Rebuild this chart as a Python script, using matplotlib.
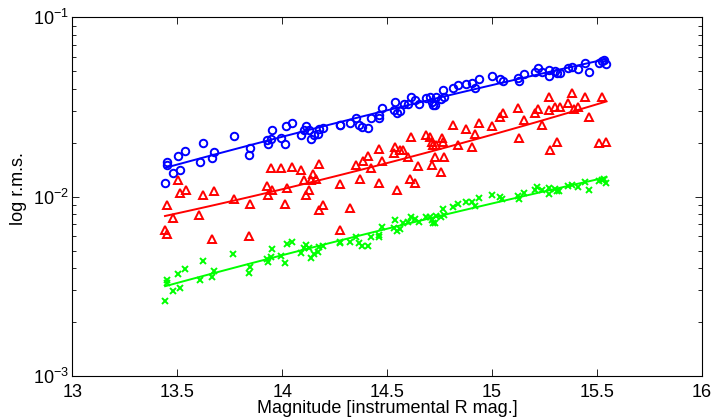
import matplotlib
matplotlib.use("Agg")
import matplotlib.pyplot as plt
import numpy as np
from matplotlib.ticker import LogLocator, NullFormatter, MultipleLocator

plt.rcParams["font.family"] = ["Liberation Sans", "DejaVu Sans"]
plt.rcParams["mathtext.fontset"] = "custom"
plt.rcParams["mathtext.rm"] = "Liberation Sans"
plt.rcParams["font.size"] = 13

# instrumental R magnitude, log10 of r.m.s.
blue_mag = [13.450, 13.453, 13.442, 13.480, 13.515, 13.504, 13.539, 13.607, 13.621, 13.667,
            13.674, 13.769, 13.842, 13.845, 13.928, 13.931, 13.947, 13.951, 13.994, 14.013,
            14.020, 14.048, 14.090, 14.105, 14.112, 14.128, 14.137, 14.153, 14.172, 14.175,
            14.194, 14.274, 14.277, 14.323, 14.353, 14.366, 14.381, 14.410, 14.421, 14.460,
            14.462, 14.477, 14.532, 14.540, 14.548, 14.561, 14.580, 14.600, 14.613, 14.632,
            14.651, 14.683, 14.704, 14.712, 14.717, 14.726, 14.732, 14.758, 14.767, 14.770,
            14.812, 14.839, 14.875, 14.905, 14.917, 14.937, 14.998, 15.037, 15.050, 15.124,
            15.128, 15.153, 15.205, 15.218, 15.237, 15.269, 15.272, 15.299, 15.307, 15.323,
            15.364, 15.383, 15.410, 15.445, 15.462, 15.510, 15.523, 15.534, 15.545]
blue_logrms = [-1.808, -1.823, -1.922, -1.870, -1.851, -1.771, -1.743, -1.808, -1.699, -1.784,
               -1.751, -1.660, -1.766, -1.728, -1.685, -1.704, -1.677, -1.630, -1.671, -1.708,
               -1.607, -1.589, -1.656, -1.628, -1.607, -1.628, -1.680, -1.658, -1.652, -1.621,
               -1.617, -1.602, -1.598, -1.591, -1.563, -1.600, -1.613, -1.615, -1.561, -1.563,
               -1.546, -1.507, -1.518, -1.472, -1.532, -1.522, -1.483, -1.483, -1.446, -1.462,
               -1.483, -1.451, -1.446, -1.470, -1.490, -1.489, -1.442, -1.453, -1.407, -1.446,
               -1.395, -1.377, -1.371, -1.368, -1.395, -1.344, -1.328, -1.344, -1.353, -1.336,
               -1.356, -1.316, -1.305, -1.284, -1.305, -1.293, -1.327, -1.299, -1.308, -1.308,
               -1.282, -1.275, -1.286, -1.254, -1.303, -1.254, -1.243, -1.238, -1.262]

red_mag = [13.453, 13.480, 13.504, 13.515, 13.540, 13.605, 13.621, 13.674, 13.769, 13.845,
           13.928, 13.931, 13.947, 13.953, 13.994, 14.013, 14.021, 14.048, 14.090, 14.104,
           14.112, 14.128, 14.137, 14.148, 14.162, 14.174, 14.177, 14.194, 14.274, 14.321,
           14.350, 14.369, 14.383, 14.410, 14.421, 14.460, 14.461, 14.477, 14.539, 14.532,
           14.547, 13.442, 13.451, 13.666, 13.842, 14.274, 14.561, 14.574, 14.599, 14.613,
           14.609, 14.632, 14.648, 14.683, 14.704, 14.715, 14.720, 14.731, 14.760, 14.764,
           14.728, 14.715, 14.769, 14.758, 14.812, 14.839, 14.875, 14.905, 14.917, 14.937,
           14.998, 15.037, 15.050, 15.124, 15.128, 15.153, 15.205, 15.218, 15.237, 15.269,
           15.272, 15.275, 15.299, 15.307, 15.323, 15.364, 15.383, 15.390, 15.410, 15.445,
           15.462, 15.510, 15.526, 15.545]
red_logrms = [-2.048, -2.117, -1.909, -1.981, -1.964, -2.104, -1.992, -1.970, -2.011, -2.039,
              -1.939, -1.992, -1.842, -1.964, -1.838, -2.039, -1.951, -1.834, -1.849, -1.909,
              -1.992, -1.964, -1.905, -1.872, -1.903, -2.074, -1.819, -2.045, -1.929, -2.065,
              -1.822, -1.903, -1.799, -1.775, -1.842, -1.736, -1.925, -1.801, -1.724, -1.758,
              -1.961, -2.186, -2.208, -2.238, -2.219, -2.186, -1.740, -1.740, -1.777, -1.669,
              -1.903, -1.925, -1.829, -1.656, -1.669, -1.697, -1.712, -1.712, -1.674, -1.697,
              -1.780, -1.823, -1.780, -1.861, -1.600, -1.712, -1.624, -1.721, -1.650, -1.587,
              -1.606, -1.554, -1.532, -1.504, -1.671, -1.572, -1.532, -1.513, -1.600, -1.446,
              -1.516, -1.740, -1.498, -1.693, -1.501, -1.476, -1.420, -1.511, -1.498, -1.442,
              -1.554, -1.699, -1.442, -1.693]

green_mag = [13.450, 13.453, 13.443, 13.480, 13.515, 13.504, 13.539, 13.607, 13.621, 13.667,
             13.674, 13.767, 13.842, 13.845, 13.928, 13.931, 13.947, 13.951, 13.994, 14.013,
             14.021, 14.048, 14.090, 14.105, 14.112, 14.128, 14.137, 14.153, 14.172, 14.175,
             14.194, 14.274, 14.277, 14.323, 14.351, 14.367, 14.381, 14.410, 14.421, 14.460,
             14.461, 14.475, 14.532, 14.539, 14.548, 14.561, 14.577, 14.600, 14.613, 14.632,
             14.651, 14.683, 14.704, 14.712, 14.717, 14.728, 14.732, 14.758, 14.766, 14.770,
             14.812, 14.839, 14.875, 14.905, 14.918, 14.937, 14.998, 15.037, 15.048, 15.124,
             15.128, 15.153, 15.205, 15.215, 15.237, 15.269, 15.272, 15.299, 15.307, 15.319,
             15.364, 15.380, 15.410, 15.445, 15.462, 15.510, 15.523, 15.532, 15.545]
green_logrms = [-2.465, -2.483, -2.582, -2.528, -2.511, -2.433, -2.405, -2.465, -2.359, -2.446,
                -2.413, -2.320, -2.427, -2.390, -2.347, -2.366, -2.338, -2.292, -2.332, -2.371,
                -2.265, -2.253, -2.316, -2.288, -2.269, -2.288, -2.340, -2.320, -2.310, -2.279,
                -2.277, -2.260, -2.253, -2.253, -2.226, -2.260, -2.273, -2.275, -2.223, -2.223,
                -2.212, -2.167, -2.176, -2.130, -2.191, -2.182, -2.145, -2.141, -2.112, -2.126,
                -2.141, -2.115, -2.112, -2.132, -2.148, -2.148, -2.106, -2.112, -2.067, -2.104,
                -2.056, -2.041, -2.031, -2.031, -2.052, -2.006, -1.989, -2.000, -2.013, -1.996,
                -2.013, -1.978, -1.963, -1.944, -1.963, -1.953, -1.987, -1.959, -1.968, -1.967,
                -1.940, -1.933, -1.944, -1.918, -1.963, -1.912, -1.907, -1.903, -1.922]

series = [
    (blue_mag, blue_logrms, "#0000ff", "o", 5.4),
    (red_mag, red_logrms, "#ff0000", "^", 6.2),
    (green_mag, green_logrms, "#00ff00", "x", 3.8),
]

fig = plt.figure(figsize=(7.14, 4.2), dpi=100)
ax = fig.add_axes([0.1011, 0.1048, 0.8821, 0.8538])

for mag, logrms, col, mk, ms in series:
    m = np.asarray(mag)
    lr = np.asarray(logrms)
    ax.plot(m, 10.0 ** lr, ls="none", marker=mk, ms=ms, mfc="none",
            mec=col, mew=1.4)
    # quadratic fit in log space
    c = np.polyfit(m, lr, 2)
    xf = np.linspace(m.min(), m.max(), 100)
    ax.plot(xf, 10.0 ** np.polyval(c, xf), color=col, lw=1.4)

ax.set_yscale("log")
ax.set_xlim(13, 16)
ax.set_ylim(1e-3, 1e-1)
ax.xaxis.set_major_locator(MultipleLocator(0.5))
ax.xaxis.set_major_formatter(plt.FuncFormatter(lambda v, p: f"{v:g}"))
ax.yaxis.set_major_locator(LogLocator(base=10, numticks=5))
ax.yaxis.set_minor_locator(LogLocator(base=10, subs=np.arange(2, 10), numticks=10))
ax.yaxis.set_minor_formatter(NullFormatter())
ax.tick_params(which="both", direction="in", top=True, right=True, width=0.6)
ax.tick_params(which="major", length=5, labelsize=13)
ax.tick_params(axis="x", which="major", pad=6)
ax.tick_params(axis="y", which="major", pad=2)
ax.tick_params(which="minor", length=3)
for s in ax.spines.values():
    s.set_linewidth(0.8)

ax.set_xlabel("Magnitude [instrumental R mag.]", fontsize=13, labelpad=-1)
ax.set_ylabel("log r.m.s.", fontsize=13)
ax.yaxis.set_label_coords(-0.072, 0.522)

fig.savefig("out.png", dpi=100)
